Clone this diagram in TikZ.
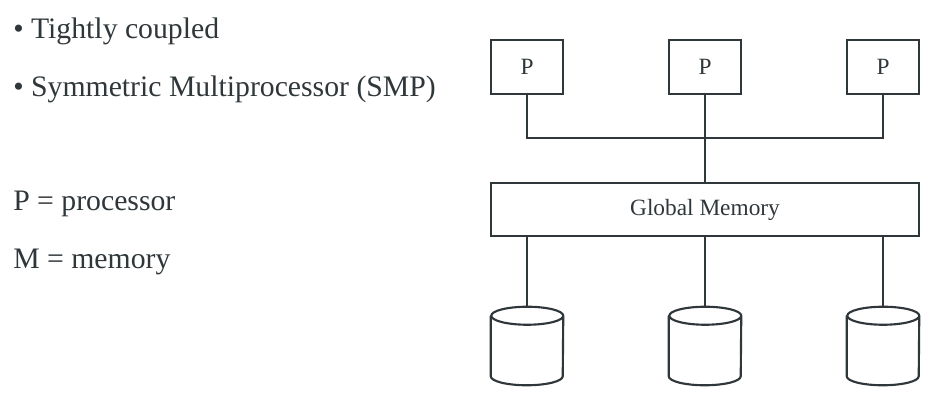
\documentclass[tikz,border=0pt]{standalone}
\usepackage{fontspec}
\setmainfont{Liberation Serif}
\definecolor{ink}{HTML}{30373A}
\tikzset{
  pbox/.style={draw=ink,line width=1.6pt,minimum width=54pt,minimum height=40.5pt,text=ink,font=\fontsize{17.5}{20}\selectfont},
  membox/.style={draw=ink,line width=1.6pt,minimum width=321pt,minimum height=39.75pt,text=ink,font=\fontsize{17.5}{20}\selectfont},
  disk/.style={inner sep=0pt,minimum width=54pt,minimum height=58.5pt},
  diskline/.style={draw=ink,line width=1.6pt},
  wire/.style={draw=ink,line width=0.8pt},
  txt/.style={anchor=base west,inner sep=0pt,text=ink,font=\fontsize{22.3}{26}\selectfont}
}
% cilindro disegnato attorno al nodo
\newcommand{\disco}[1]{%
  \draw[diskline] ([yshift=-6.75pt]#1.north west) -- ([yshift=6.75pt]#1.south west)
    arc[start angle=180,end angle=360,x radius=27pt,y radius=6.75pt]
    -- ([yshift=-6.75pt]#1.north east)
    arc[start angle=0,end angle=360,x radius=27pt,y radius=6.75pt];}
\begin{document}
\begin{tikzpicture}[x=0.75pt,y=-0.75pt]
        \useasboundingbox (0,0) rectangle (936,406);
        %testo a sinistra
        \node[txt] (t1) at (13,39) {\textbullet\ Tightly coupled};
        \node[txt] (t2) at (13,97) {\textbullet\ Symmetric Multiprocessor (SMP)};
        \node[txt] (t3) at (13,211) {P = processor};
        \node[txt] (t4) at (13,268) {M = memory};
        %processori
        \node[pbox] (p1) at (527,67) {P};
        \node[pbox] (p2) at (705,67) {P};
        \node[pbox] (p3) at (883,67) {P};
        %memoria globale
        \node[membox] (gm) at (705,209.5) {Global Memory};
        %memorie
        \node[disk] (m1) at (527,346) {};
        \node[disk] (m2) at (705,346) {};
        \node[disk] (m3) at (883,346) {};
        \disco{m1}
        \disco{m2}
        \disco{m3}
        %bus
        \coordinate (bus) at (705,138);
        \draw[wire] (p1.south) |- (bus) -| (p3.south);
        \draw[wire] (p2.south) -- (gm.north);
        \draw[wire] (gm.south -| m1.north) -- (m1.north);
        \draw[wire] (gm.south) -- (m2.north);
        \draw[wire] (gm.south -| m3.north) -- (m3.north);
    \end{tikzpicture}
\end{document}
